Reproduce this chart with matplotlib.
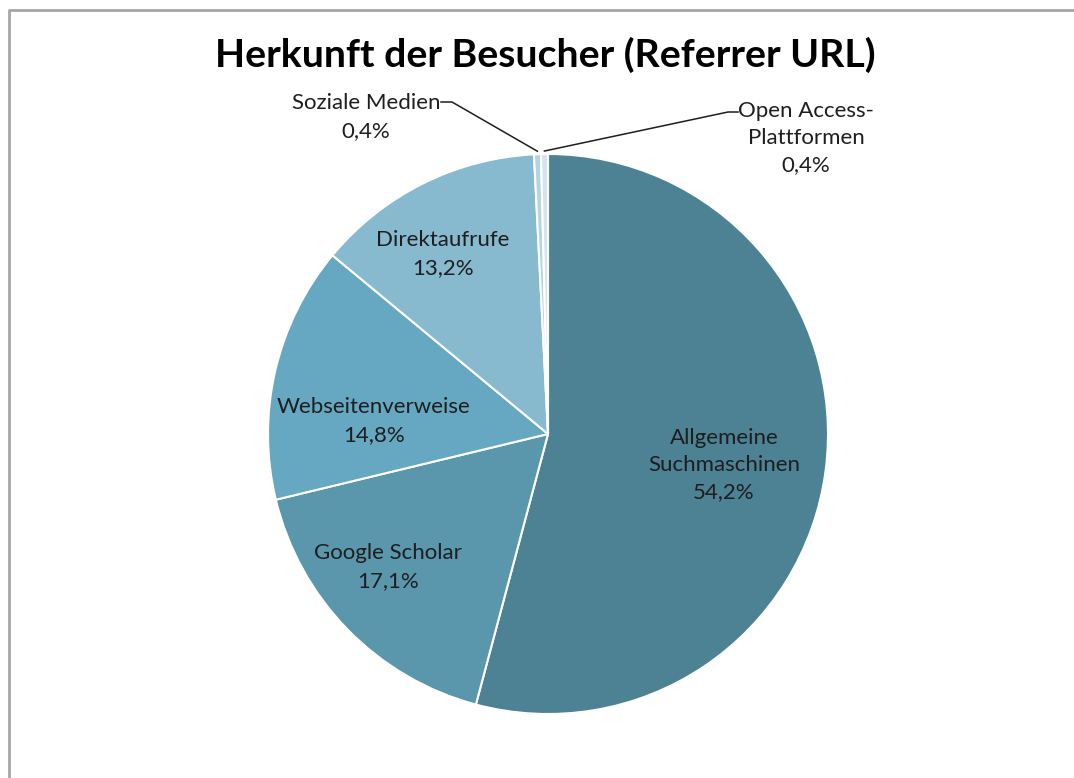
import numpy as np
import matplotlib
matplotlib.use('Agg')
import matplotlib.pyplot as plt

# data
categories = ['Allgemeine\nSuchmaschinen', 'Google Scholar', 'Webseitenverweise',
              'Direktaufrufe', 'Soziale Medien', 'Open Access-\nPlattformen']
shares = [54.2, 17.1, 14.8, 13.2, 0.4, 0.4]
pct_labels = ['54,2%', '17,1%', '14,8%', '13,2%', '0,4%', '0,4%']
colors = ['#4d8194', '#5a97ad', '#66a8c2', '#87b9cf', '#b5d3e0', '#d3e5ee']

W, H = 1074, 778
plt.rcParams['font.family'] = ['Lato', 'DejaVu Sans']

fig = plt.figure(figsize=(W / 100, H / 100), dpi=100)
ax = fig.add_axes([0, 0, 1, 1])

# pixel helper: image y runs downwards
def py(y):
    return H - y

cx, cy, R = 548, 434, 280
wedges, _ = ax.pie(shares, colors=colors, startangle=90, counterclock=False,
                   center=(cx, py(cy)), radius=R,
                   wedgeprops=dict(edgecolor='white', linewidth=1.5))
ax.set_xlim(0, W)
ax.set_ylim(0, H)
ax.axis('off')

txt_kw = dict(ha='center', va='center', fontsize=16, color='#1e1e1e',
              linespacing=1.45, multialignment='center')

# label positions for the big slices (image pixels)
inner_pos = [(724, 465), (388, 567), (374, 421), (443, 254)]
for i, (x, y) in enumerate(inner_pos):
    ax.text(x, py(y), categories[i] + '\n' + pct_labels[i], **txt_kw)

# small slices: outside labels with leader lines
def anchor(w):
    a = np.deg2rad((w.theta1 + w.theta2) / 2)
    return cx + (R + 3) * np.cos(a), py(cy) + (R + 3) * np.sin(a)

ax.text(366, py(117), categories[4] + '\n' + pct_labels[4], **txt_kw)
ax0 = anchor(wedges[4])
ax.plot([441, 452, ax0[0]], [py(102), py(102), ax0[1]], color='#1e1e1e', lw=1.1)

ax.text(806, py(138), categories[5] + '\n' + pct_labels[5], **txt_kw)
ax1 = anchor(wedges[5])
ax.plot([ax1[0], 728, 738], [ax1[1], py(112), py(112)], color='#1e1e1e', lw=1.1)

ax.text(545, py(55), 'Herkunft der Besucher (Referrer URL)', ha='center', va='center',
        fontsize=28.3, fontweight='bold', color='#000000')

# chart frame (cut off at right and bottom)
ax.plot([8.5, 8.5, W + 5], [-5, py(9.5), py(9.5)], color='#a6a6a6', lw=2,
        clip_on=False)

fig.savefig('out.png', dpi=100)
